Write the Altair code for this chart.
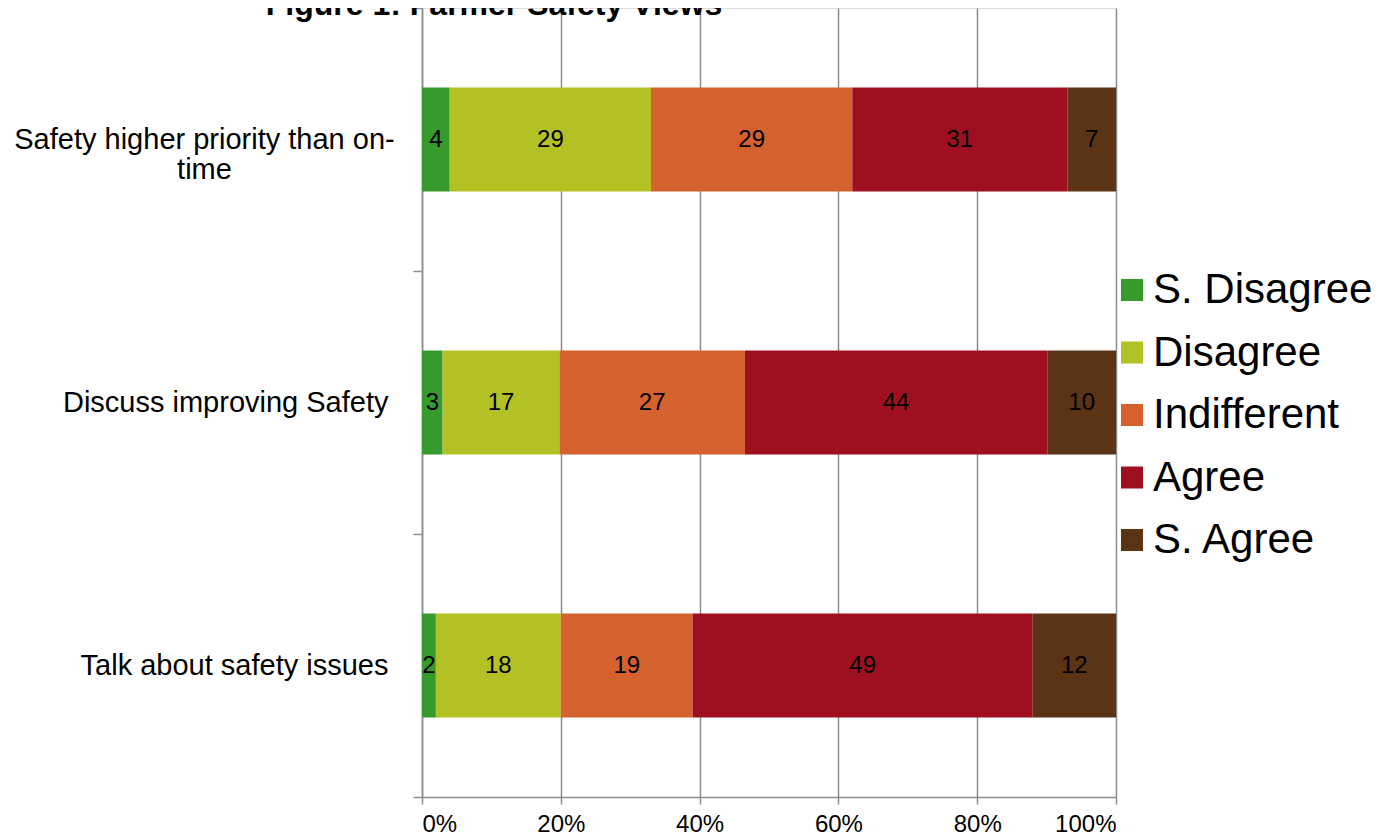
import altair as alt
import pandas as pd

title_text = ["Figure 1: Farmer Safety Views"]
questions = [
    "Safety higher priority than on-time",
    "Discuss improving Safety",
    "Talk about safety issues",
]
responses = ["S. Disagree", "Disagree", "Indifferent", "Agree", "S. Agree"]
s_disagree = [4, 3, 2]
disagree = [29, 17, 18]
indifferent = [29, 27, 19]
agree = [31, 44, 49]
s_agree = [7, 10, 12]
colors = ["#369a2c", "#b4c125", "#d5612e", "#9e1020", "#5b3315"]
x_ticks = [0, 0.2, 0.4, 0.6, 0.8, 1.0]

series = [s_disagree, disagree, indifferent, agree, s_agree]
rows = []
for ri, (resp, vals) in enumerate(zip(responses, series)):
    for q, v in zip(questions, vals):
        rows.append({"question": q, "response": resp, "order": ri, "value": v})
df = pd.DataFrame(rows)

FONT = "Liberation Sans"
GRAY = "#8c8c8c"
FIRST = "datum.value == 'Safety higher priority than on-time'"

base = alt.Chart(df).transform_stack(
    stack="value",
    groupby=["question"],
    sort=[alt.SortField("order", order="ascending")],
    as_=["x0", "x1"],
    offset="normalize",
).transform_calculate(mid="(datum.x0 + datum.x1) / 2")

y_enc = alt.Y(
    "question:N",
    sort=questions,
    scale=alt.Scale(paddingInner=0, paddingOuter=0),
    axis=alt.Axis(
        title=None,
        grid=False,
        tickBand="extent",
        tickSize=9,
        tickColor=GRAY,
        tickWidth=1.5,
        domainColor=GRAY,
        domainWidth=1.5,
        labelFont=FONT,
        labelFontSize=29,
        labelColor="black",
        labelLineHeight=30,
        labelLimit=600,
        labelBaseline="middle",
        labelExpr="datum.value == 'Safety higher priority than on-time' ? ['Safety higher priority than on-', 'time'] : datum.value",
        labelAlign={"condition": {"test": FIRST, "value": "center"}, "value": "right"},
        labelPadding={"condition": {"test": FIRST, "value": 209}, "value": 25},
    ),
)

bars = base.mark_bar(height=alt.RelativeBandSize(band=0.395)).encode(
    x=alt.X(
        "x0:Q",
        scale=alt.Scale(domain=[0, 1], nice=False),
        axis=alt.Axis(
            title=None,
            values=x_ticks,
            format=".0%",
            grid=True,
            gridColor=GRAY,
            gridWidth=1.5,
            domainColor=GRAY,
            domainWidth=1.5,
            tickColor=GRAY,
            tickWidth=1.5,
            tickSize=7,
            labelFont=FONT,
            labelFontSize=24,
            labelColor="black",
            labelPadding=8,
        ),
    ),
    x2="x1:Q",
    y=y_enc,
    color=alt.Color(
        "response:N",
        sort=responses,
        scale=alt.Scale(domain=responses, range=colors),
        legend=alt.Legend(
            title=None,
            orient="none",
            legendX=689,
            legendY=261,
            padding=0,
            symbolType="square",
            symbolSize=484,
            symbolStrokeWidth=0,
            labelFont=FONT,
            labelFontSize=42,
            labelColor="black",
            labelOffset=0,
            rowPadding=20.5,
            labelLimit=400,
        ),
    ),
    order=alt.Order("order:Q"),
)

labels = base.mark_text(font=FONT, fontSize=24, color="black").encode(
    x="mid:Q",
    y=alt.Y("question:N", sort=questions),
    text="value:Q",
)

title = alt.Chart(pd.DataFrame({"t": title_text})).mark_text(
    font=FONT, fontSize=32, fontWeight="bold", color="black",
    align="center", baseline="alphabetic",
).encode(text="t:N", x=alt.value(72), y=alt.value(7))

chart = (
    alt.layer(bars, labels, title)
    .properties(
        width=694,
        height=789,
        padding={"left": 414, "top": 0, "right": 256, "bottom": 40},
        autosize="none",
    )
    .configure_view(stroke=None)
    .configure(background="white")
)

chart.save("out.html", embed_options={"renderer": "svg", "actions": False})
